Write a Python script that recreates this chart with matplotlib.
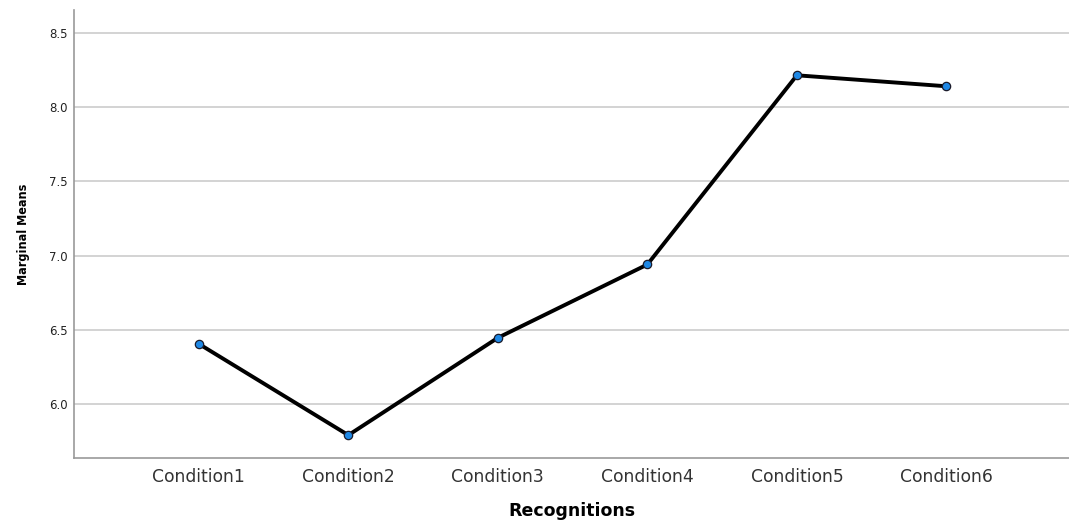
import matplotlib
matplotlib.use("Agg")
import matplotlib.pyplot as plt
from matplotlib import font_manager

plt.rcParams["font.family"] = ["DejaVu Sans"]

categories = ["Condition1", "Condition2", "Condition3", "Condition4", "Condition5", "Condition6"]
means = [6.405, 5.79, 6.446, 6.94, 8.215, 8.141]
yticks = [6.0, 6.5, 7.0, 7.5, 8.0, 8.5]

cond = [f.fname for f in font_manager.fontManager.ttflist
        if "Condensed" in f.fname and "Bold" in f.fname and "Oblique" not in f.fname
        and "Sans" in f.fname and "Serif" not in f.fname and "Mono" not in f.fname]

fig = plt.figure(figsize=(10.69, 5.23), dpi=100)
ax = fig.add_axes([74/1069, 1-458/523, 1-74/1069, 448/523])
x = list(range(len(categories)))
ax.plot(x, means, color="black", lw=2.8, zorder=3,
        marker="o", markersize=6, markerfacecolor="#1e88e5",
        markeredgecolor="#1a1a2a", markeredgewidth=0.9)
ax.set_xlim(-0.835, 5.82)
ax.set_ylim(5.636, 8.655)
ax.set_yticks(yticks)
ax.set_yticklabels([f"{v:.1f}" for v in yticks], fontsize=8.5, color="#222222")
ax.set_xticks(x)
ax.set_xticklabels(categories, fontsize=12.3, color="#333333")
ax.tick_params(axis="both", length=0)
ax.tick_params(axis="y", pad=4.5)
ax.tick_params(axis="x", pad=7)
ax.yaxis.grid(True, color="#c8c8c8", lw=1.1)
ax.set_axisbelow(True)
for s in ["top", "right"]:
    ax.spines[s].set_visible(False)
for s in ["left", "bottom"]:
    ax.spines[s].set_color("#999999")
    ax.spines[s].set_linewidth(1.2)
ax.set_xlabel("Recognitions", fontsize=12.5, fontweight="bold", labelpad=12)
if cond:
    fp = font_manager.FontProperties(fname=cond[0], size=9)
    ax.set_ylabel("Marginal Means", fontproperties=fp, labelpad=14)
else:
    ax.set_ylabel("Marginal Means", fontsize=9.5, fontweight="bold", labelpad=15,
                  family=["Liberation Sans", "DejaVu Sans"])
fig.savefig("out.png", dpi=100)
